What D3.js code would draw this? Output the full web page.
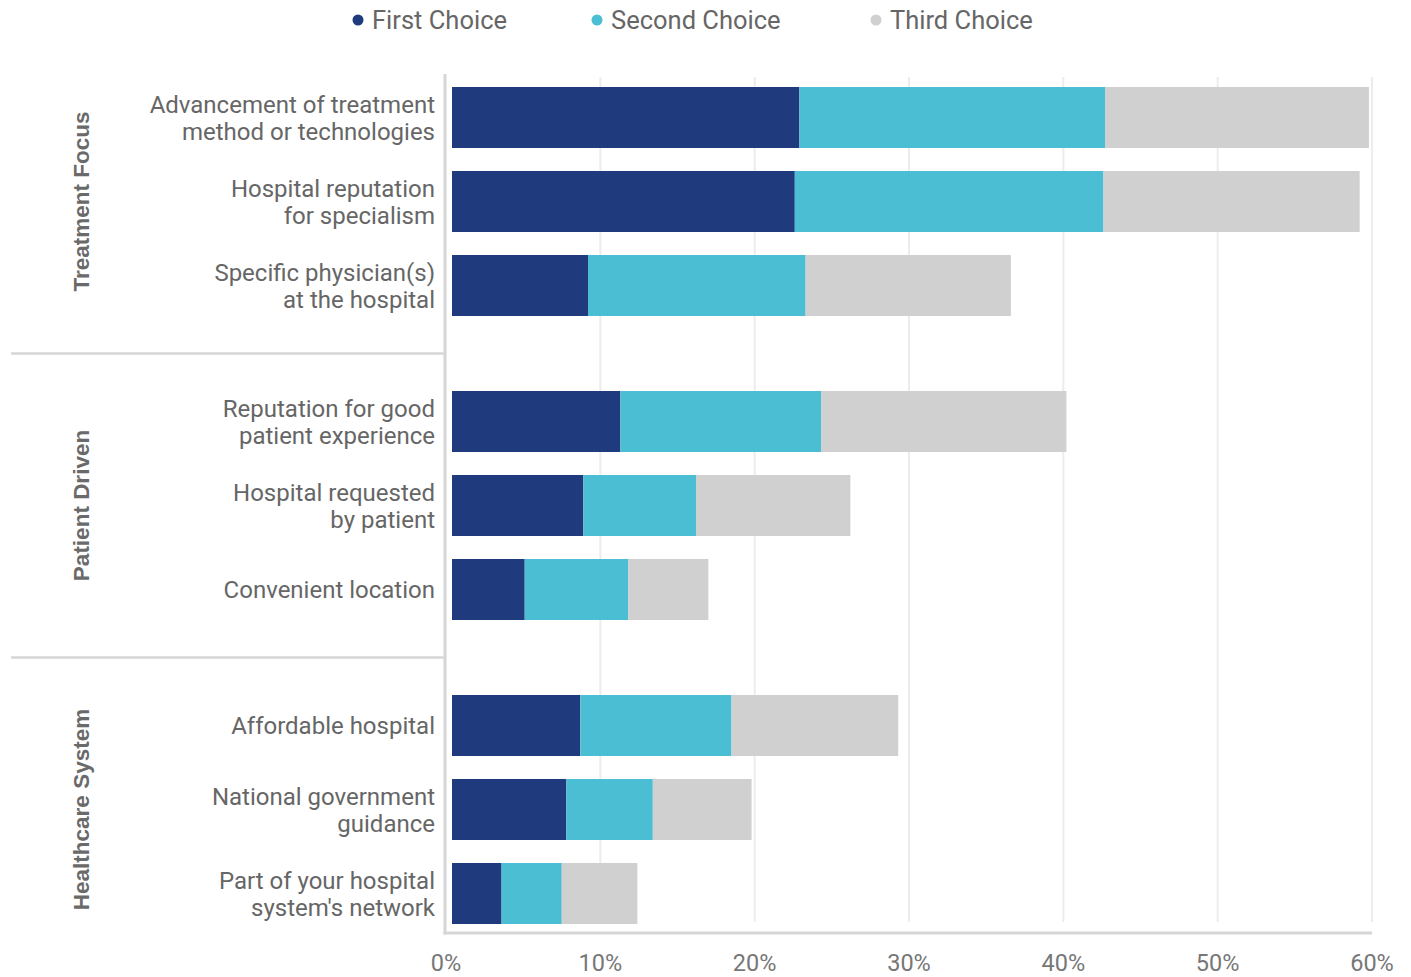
<!DOCTYPE html>
<html>
<head>
<meta charset="utf-8">
<script src="https://cdn.jsdelivr.net/npm/d3@7"></script>
<style>
  html, body { margin: 0; padding: 0; background: #ffffff; }
  svg { display: block; }
</style>
</head>
<body>
<svg id="chart" width="1411" height="977"></svg>
<script>
// ---- data ----
const categories = [
  ["Advancement of treatment", "method or technologies"],
  ["Hospital reputation", "for specialism"],
  ["Specific physician(s)", "at the hospital"],
  ["Reputation for good", "patient experience"],
  ["Hospital requested", "by patient"],
  ["Convenient location"],
  ["Affordable hospital"],
  ["National government", "guidance"],
  ["Part of your hospital", "system's network"]
];
const groups = ["Treatment Focus", "Patient Driven", "Healthcare System"];
const groupOf = [0, 0, 0, 1, 1, 1, 2, 2, 2];
const seriesNames = ["First Choice", "Second Choice", "Third Choice"];
const firstChoice  = [22.9, 22.6, 9.2, 11.3, 8.9, 5.1, 8.7, 7.8, 3.6];
const secondChoice = [19.8, 20.0, 14.1, 13.0, 7.3, 6.7, 9.8, 5.6, 3.9];
const thirdChoice  = [17.1, 16.6, 13.3, 15.9, 10.0, 5.2, 10.8, 6.4, 4.9];
const tickValues = [0, 10, 20, 30, 40, 50, 60];

// ---- styles ----
const colors = ["#1f3a7d", "#4bbed3", "#d0d0d0"];
const textColor = "#666666";
const axisColor = "#d6d6d6";
const gridColor = "#ececec";

const svg = d3.select("#chart");

const x = d3.scaleLinear().domain([0, 60]).range([446, 1372]);
const gapRatio = 52 / 84;
const rowPos = (i) => i + groupOf[i] * gapRatio;
const y = d3.scaleLinear().domain([0, 8 + 2 * gapRatio]).range([117.5, 893.5]);
const barH = 61;
const barInset = 6;
const plotTop = 74, plotBottom = 933;

// gridlines
svg.append("g").selectAll("line")
  .data(tickValues.filter(d => d > 0))
  .join("line")
  .attr("x1", d => x(d)).attr("x2", d => x(d))
  .attr("y1", plotTop + 3).attr("y2", plotBottom - 11)
  .attr("stroke", gridColor).attr("stroke-width", 2);

// stacked bars
const series = [firstChoice, secondChoice, thirdChoice];
const rows = categories.map((c, i) => {
  let cum = 0;
  return series.map((s, j) => {
    const seg = { row: i, s: j, x0: cum, x1: cum + s[i] };
    cum += s[i];
    return seg;
  });
}).flat();

svg.append("g").selectAll("rect")
  .data(rows)
  .join("rect")
  .attr("x", d => d.s === 0 ? x(d.x0) + barInset : x(d.x0))
  .attr("width", d => x(d.x1) - (d.s === 0 ? x(d.x0) + barInset : x(d.x0)))
  .attr("y", d => y(rowPos(d.row)) - barH / 2)
  .attr("height", barH)
  .attr("fill", d => colors[d.s]);

// axis lines
svg.append("line")
  .attr("x1", 445).attr("x2", 445)
  .attr("y1", plotTop).attr("y2", plotBottom + 1.5)
  .attr("stroke", axisColor).attr("stroke-width", 3);
svg.append("line")
  .attr("x1", 443.5).attr("x2", x(60))
  .attr("y1", plotBottom).attr("y2", plotBottom)
  .attr("stroke", axisColor).attr("stroke-width", 3);

// group separators
const seps = [2, 5].map(i => (y(rowPos(i)) + y(rowPos(i + 1))) / 2);
svg.append("g").selectAll("line")
  .data(seps)
  .join("line")
  .attr("x1", 11).attr("x2", 445)
  .attr("y1", d => d).attr("y2", d => d)
  .attr("stroke", axisColor).attr("stroke-width", 2.5);

// tick labels
svg.append("g").selectAll("text")
  .data(tickValues)
  .join("text")
  .attr("x", d => x(d))
  .attr("y", 971)
  .attr("text-anchor", "middle")
  .attr("font-family", "Roboto, sans-serif")
  .attr("font-size", 23.5)
  .attr("fill", "#777777")
  .text(d => d + "%");

// row labels
const lineH = 27;
const lab = svg.append("g").selectAll("text")
  .data(categories)
  .join("text")
  .attr("text-anchor", "end")
  .attr("font-family", "Roboto, sans-serif")
  .attr("font-size", 24)
  .attr("fill", textColor);
lab.each(function(lines, i) {
  const cy = y(rowPos(i));
  const n = lines.length;
  d3.select(this).selectAll("tspan")
    .data(lines)
    .join("tspan")
    .attr("x", 435)
    .attr("y", (d, k) => cy + (k - (n - 1) / 2) * lineH + 8.5)
    .text(d => d);
});

// group labels
svg.append("g").selectAll("text")
  .data(groups)
  .join("text")
  .attr("transform", (g, gi) => {
    const idx = groupOf.map((v, i) => v === gi ? i : -1).filter(i => i >= 0);
    const cy = d3.mean(idx, i => y(rowPos(i)));
    return `translate(89,${cy}) rotate(-90)`;
  })
  .attr("text-anchor", "middle")
  .attr("font-family", "'Liberation Sans', Arial, sans-serif")
  .attr("font-weight", "bold")
  .attr("font-size", 22.5)
  .attr("fill", "#6a6a6a")
  .text(d => d);

// legend
const legendX = [358, 597, 876];
const leg = svg.append("g").selectAll("g")
  .data(seriesNames)
  .join("g")
  .attr("transform", (d, i) => `translate(${legendX[i]},20)`);
leg.append("circle").attr("r", 5.5).attr("fill", (d, i) => colors[i]);
leg.append("text")
  .attr("x", 14).attr("y", 9)
  .attr("font-family", "Roboto, sans-serif")
  .attr("font-size", 25.5)
  .attr("fill", textColor)
  .text(d => d);
</script>
</body>
</html>
